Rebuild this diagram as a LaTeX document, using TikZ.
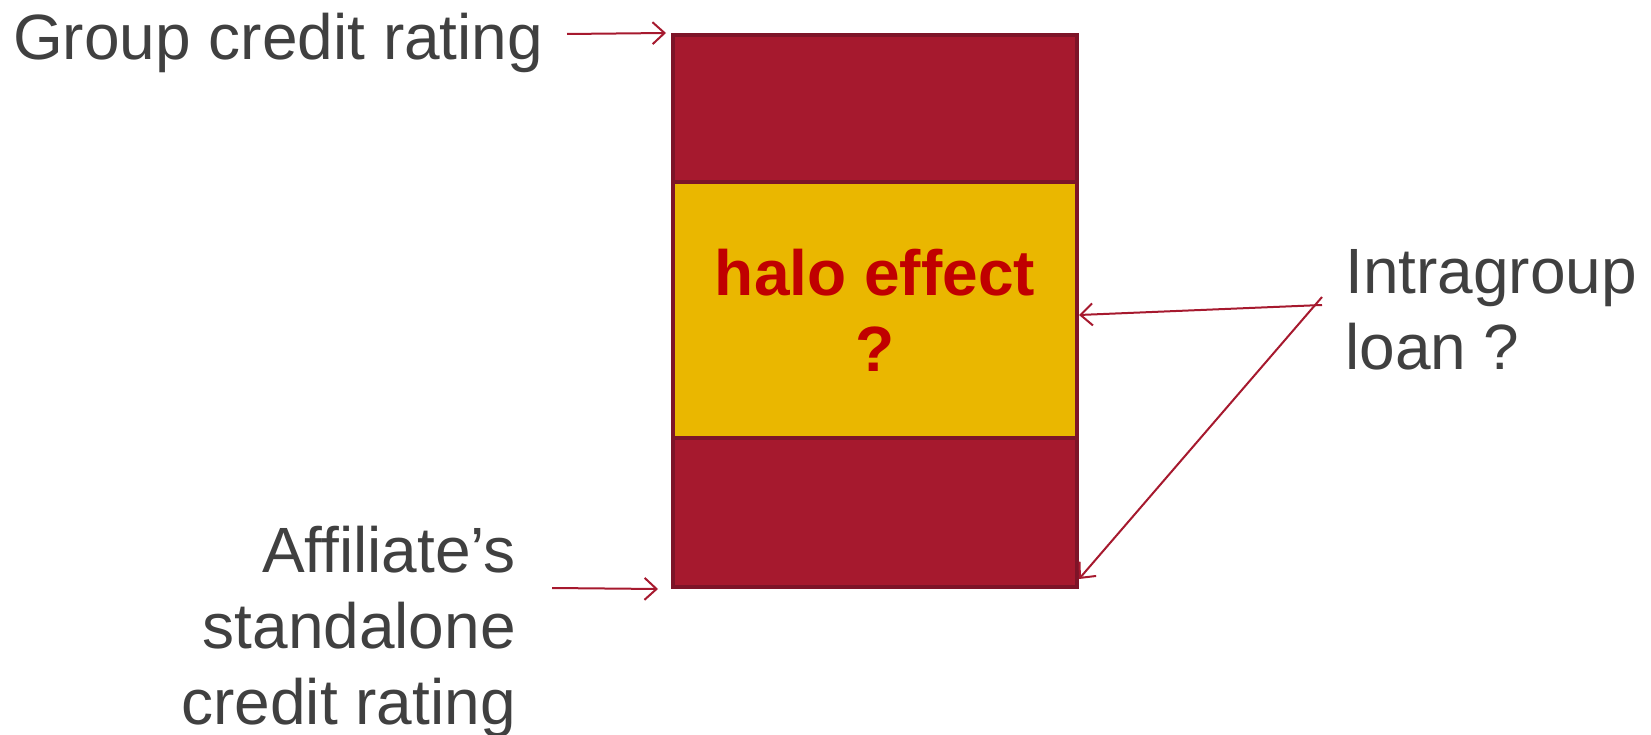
\documentclass[tikz,border=0pt]{standalone}
\usepackage{fontspec}
\setmainfont{Liberation Sans}
\usetikzlibrary{arrows.meta}
\definecolor{barred}{HTML}{A6192E}
\definecolor{bordred}{HTML}{7D1428}
\definecolor{haloyel}{HTML}{EAB700}
\definecolor{halored}{HTML}{C00000}
\definecolor{txtgray}{HTML}{404040}
\begin{document}
\begin{tikzpicture}[x=1pt,y=-1pt,
  lbl/.style={font=\fontsize{64}{76}\selectfont, text=txtgray, inner sep=0pt},
  bar/.style={draw=bordred, line width=4pt, fill=barred, minimum width=404pt, inner sep=0pt},
  arr/.style={draw=barred, line width=2pt, -{Straight Barb[length=12pt,width=22pt]}}]
\useasboundingbox (0,0) rectangle (1651,735);
\node[bar, minimum height=552pt] (outer) at (875,311) {};
\node[bar, fill=haloyel, minimum height=256pt, text=halored, align=center,
      font=\bfseries\fontsize{64}{76}\selectfont] (halo) at (875,310) {halo effect\\?};
\node[lbl, anchor=base west] (group) at (13,60) {Group credit rating};
\node[lbl, align=right, anchor=north east] (aff) at (516,526) {Affiliate’s\\standalone\\credit rating};
\node[lbl, align=left, anchor=north west] (intra) at (1345,249) {Intragroup\\loan ?};
\coordinate (gs) at (567,34);
\coordinate (as) at (552,588);
\coordinate (is1) at (1322,305);
\coordinate (is2) at (1322,297);
\draw[arr] (gs) -- ([xshift=-5pt]outer.north west);
\draw[arr] (as) -- ([xshift=-13pt]outer.south west);
\draw[arr] (is1) -- ([yshift=-4pt]outer.east);
\draw[arr] (is2) -- ([yshift=10pt]outer.south east);
\end{tikzpicture}
\end{document}
